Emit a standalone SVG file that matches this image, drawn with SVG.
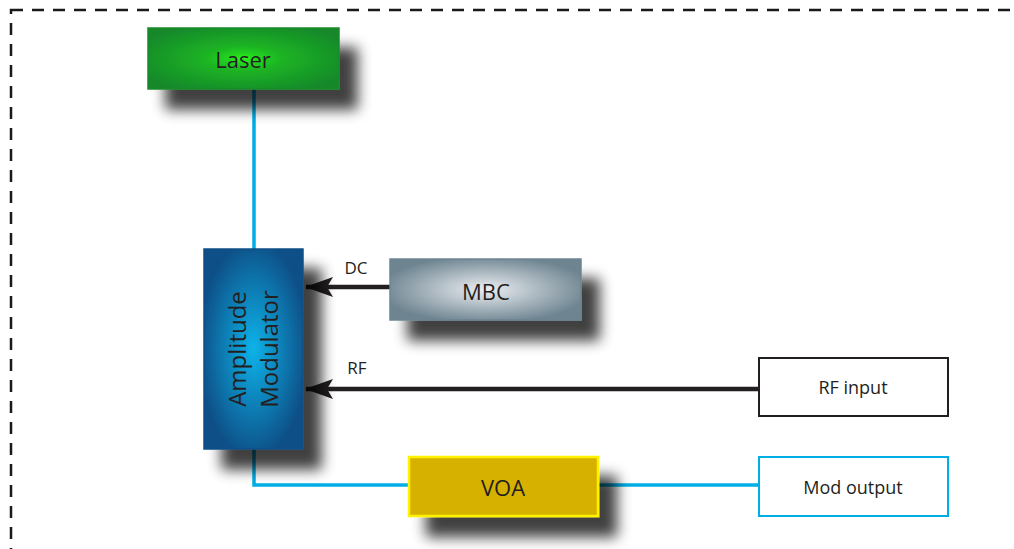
<svg xmlns="http://www.w3.org/2000/svg" width="1014" height="549" viewBox="0 0 1014 549">
<style>
.lbl{font-family:"Open Sans","Liberation Sans",sans-serif;fill:#231f20;text-anchor:middle}
.blue{stroke:#00aee6;stroke-width:3.5;fill:none}
.blk{stroke:#231f20;stroke-width:4.5;fill:none}
</style>
<defs>
<filter id="sh" x="-30%" y="-30%" width="180%" height="200%">
<feGaussianBlur in="SourceAlpha" stdDeviation="7"/>
<feOffset dx="18" dy="20" result="b"/>
<feComponentTransfer><feFuncA type="linear" slope="0.75"/></feComponentTransfer>
<feMerge><feMergeNode/><feMergeNode in="SourceGraphic"/></feMerge>
</filter>
<radialGradient id="gL" cx="0.5" cy="0.5" r="0.6">
<stop offset="0" stop-color="#2cf51a"/><stop offset="0.15" stop-color="#22d020"/><stop offset="0.35" stop-color="#1bb224"/><stop offset="1" stop-color="#17882a"/>
</radialGradient>
<radialGradient id="gM" cx="0.5" cy="0.5" r="0.55">
<stop offset="0" stop-color="#0ab3ea"/><stop offset="1" stop-color="#0a4f86"/>
</radialGradient>
<radialGradient id="gB" cx="0.5" cy="0.5" r="0.55">
<stop offset="0" stop-color="#eceef2"/><stop offset="1" stop-color="#6e8591"/>
</radialGradient>
<marker id="ar" markerWidth="28" markerHeight="20" refX="27" refY="10" orient="auto" markerUnits="userSpaceOnUse">
<path d="M0,0 L28,10 L0,20 L6,10 Z" fill="#231f20"/>
</marker>
</defs>
<rect x="11" y="10" width="1040" height="600" fill="none" stroke="#1a1a1a" stroke-width="2.5" stroke-dasharray="12 9"/>
<g id="connectors">
<path class="blue" d="M254 89 V249"/>
<path class="blue" d="M254 449 V485 H408"/>
<path class="blue" d="M598 485 H758"/>
<path class="blk" d="M390 287 H306" marker-end="url(#ar)"/>
<path class="blk" d="M758 389 H306" marker-end="url(#ar)"/>
<text class="lbl" x="356" y="274" font-size="17">DC</text>
<text class="lbl" x="357" y="374" font-size="17">RF</text>
</g>
<g id="laser">
<rect x="148" y="28" width="191" height="61" fill="url(#gL)" stroke="#1a8a2a" stroke-width="1.5" filter="url(#sh)"/>
<text class="lbl" x="243" y="68" font-size="22">Laser</text>
</g>
<g id="modulator">
<rect x="204" y="249" width="99" height="200" fill="url(#gM)" stroke="#0a4f86" stroke-width="1.5" filter="url(#sh)"/>
<text class="lbl" font-size="24" transform="translate(246,349) rotate(-90)">Amplitude</text>
<text class="lbl" font-size="24" transform="translate(278,349) rotate(-90)">Modulator</text>
</g>
<g id="mbc">
<rect x="390" y="259" width="191" height="61" fill="url(#gB)" stroke="#6e8591" stroke-width="1.5" filter="url(#sh)"/>
<text class="lbl" x="486" y="300" font-size="22">MBC</text>
</g>
<g id="voa">
<rect x="409" y="457" width="189" height="59" fill="#d6b106" stroke="#fff200" stroke-width="2.5" filter="url(#sh)"/>
<text class="lbl" x="503" y="496" font-size="22">VOA</text>
</g>
<g id="rfinput">
<rect x="759" y="358" width="189" height="58" fill="#fff" stroke="#231f20" stroke-width="2"/>
<text class="lbl" x="853" y="394" font-size="18">RF input</text>
</g>
<g id="modoutput">
<rect x="759" y="457" width="189" height="59" fill="#fff" stroke="#00aee6" stroke-width="2"/>
<text class="lbl" x="853" y="494" font-size="18">Mod output</text>
</g>
</svg>
